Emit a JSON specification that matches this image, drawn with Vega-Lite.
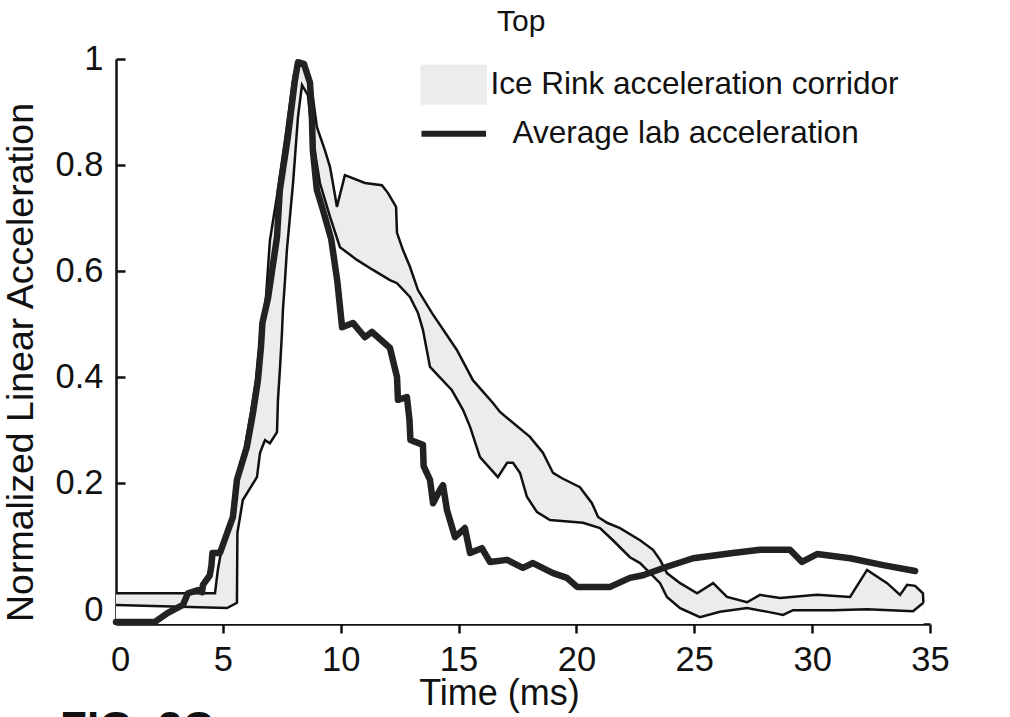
{
  "$schema": "https://vega.github.io/schema/vega-lite/v6.json",
  "autosize": {"type": "none"},
  "width": 814,
  "height": 565,
  "padding": {"left": 116, "top": 59, "right": 80, "bottom": 93},
  "background": "white",
  "title": {"text": "FIG. 2C", "orient": "bottom", "anchor": "start", "frame": "group", "dx": -56, "offset": -4, "fontSize": 44, "fontWeight": "bold", "color": "#111", "font": "Liberation Sans"},
  "datasets": {
    "lab": [
      {"t":0.47,"a":-0.062},{"t":2.12,"a":-0.062},{"t":2.67,"a":-0.045},{"t":3.31,"a":-0.030},{"t":3.52,"a":-0.008},{"t":3.95,"a":-0.002},{"t":4.12,"a":-0.006},{"t":4.16,"a":0.008},{"t":4.45,"a":0.026},{"t":4.52,"a":0.045},{"t":4.56,"a":0.068},{"t":4.88,"a":0.068},{"t":5.43,"a":0.136},{"t":5.60,"a":0.206},{"t":6.02,"a":0.268},{"t":6.28,"a":0.332},{"t":6.49,"a":0.394},{"t":6.62,"a":0.457},{"t":6.68,"a":0.502},{"t":6.92,"a":0.549},{"t":7.30,"a":0.664},{"t":7.42,"a":0.753},{"t":7.76,"a":0.853},{"t":8.06,"a":0.960},{"t":8.19,"a":0.994},{"t":8.44,"a":0.991},{"t":8.70,"a":0.955},{"t":8.78,"a":0.891},{"t":8.82,"a":0.828},{"t":8.99,"a":0.753},{"t":9.25,"a":0.715},{"t":9.60,"a":0.660},{"t":9.86,"a":0.580},{"t":10.06,"a":0.494},{"t":10.52,"a":0.502},{"t":11.03,"a":0.475},{"t":11.33,"a":0.485},{"t":12.09,"a":0.455},{"t":12.39,"a":0.400},{"t":12.43,"a":0.357},{"t":12.81,"a":0.362},{"t":12.92,"a":0.319},{"t":12.96,"a":0.281},{"t":13.49,"a":0.272},{"t":13.52,"a":0.232},{"t":13.79,"a":0.206},{"t":13.92,"a":0.162},{"t":14.21,"a":0.187},{"t":14.34,"a":0.196},{"t":14.51,"a":0.149},{"t":14.85,"a":0.098},{"t":15.27,"a":0.115},{"t":15.49,"a":0.068},{"t":15.99,"a":0.077},{"t":16.33,"a":0.051},{"t":17.06,"a":0.055},{"t":17.73,"a":0.040},{"t":18.16,"a":0.049},{"t":19.01,"a":0.030},{"t":19.60,"a":0.021},{"t":20.03,"a":0.004},{"t":21.43,"a":0.004},{"t":22.27,"a":0.021},{"t":22.83,"a":0.026},{"t":23.84,"a":0.042},{"t":24.95,"a":0.058},{"t":26.64,"a":0.068},{"t":27.79,"a":0.074},{"t":29.06,"a":0.074},{"t":29.57,"a":0.051},{"t":30.21,"a":0.066},{"t":31.61,"a":0.058},{"t":33.01,"a":0.045},{"t":34.37,"a":0.034}
    ],
    "corridor": [
      {"bound":"upper","t":0.47,"a":-0.008},{"bound":"upper","t":4.67,"a":-0.008},{"bound":"upper","t":4.79,"a":0.036},{"bound":"upper","t":4.92,"a":0.068},{"bound":"upper","t":5.35,"a":0.130},{"bound":"upper","t":5.56,"a":0.206},{"bound":"upper","t":5.94,"a":0.268},{"bound":"upper","t":6.19,"a":0.332},{"bound":"upper","t":6.41,"a":0.394},{"bound":"upper","t":6.58,"a":0.470},{"bound":"upper","t":6.83,"a":0.549},{"bound":"upper","t":7.00,"a":0.658},{"bound":"upper","t":7.34,"a":0.753},{"bound":"upper","t":7.64,"a":0.847},{"bound":"upper","t":7.98,"a":0.960},{"bound":"upper","t":8.15,"a":0.996},{"bound":"upper","t":8.49,"a":0.991},{"bound":"upper","t":8.78,"a":0.942},{"bound":"upper","t":8.99,"a":0.872},{"bound":"upper","t":9.33,"a":0.828},{"bound":"upper","t":9.55,"a":0.796},{"bound":"upper","t":9.76,"a":0.743},{"bound":"upper","t":9.84,"a":0.721},{"bound":"upper","t":10.18,"a":0.781},{"bound":"upper","t":11.03,"a":0.766},{"bound":"upper","t":11.75,"a":0.762},{"bound":"upper","t":12.01,"a":0.747},{"bound":"upper","t":12.35,"a":0.721},{"bound":"upper","t":12.39,"a":0.672},{"bound":"upper","t":12.64,"a":0.640},{"bound":"upper","t":12.94,"a":0.608},{"bound":"upper","t":13.28,"a":0.564},{"bound":"upper","t":13.87,"a":0.521},{"bound":"upper","t":14.93,"a":0.451},{"bound":"upper","t":15.61,"a":0.394},{"bound":"upper","t":16.46,"a":0.351},{"bound":"upper","t":16.76,"a":0.334},{"bound":"upper","t":18.03,"a":0.287},{"bound":"upper","t":18.58,"a":0.257},{"bound":"upper","t":19.01,"a":0.219},{"bound":"upper","t":19.39,"a":0.209},{"bound":"upper","t":20.15,"a":0.192},{"bound":"upper","t":20.66,"a":0.162},{"bound":"upper","t":20.92,"a":0.136},{"bound":"upper","t":21.30,"a":0.125},{"bound":"upper","t":21.85,"a":0.115},{"bound":"upper","t":22.70,"a":0.092},{"bound":"upper","t":23.25,"a":0.074},{"bound":"upper","t":23.55,"a":0.055},{"bound":"upper","t":23.84,"a":0.030},{"bound":"upper","t":24.40,"a":0.011},{"bound":"upper","t":25.12,"a":-0.008},{"bound":"upper","t":25.80,"a":0.011},{"bound":"upper","t":26.39,"a":-0.015},{"bound":"upper","t":27.24,"a":-0.025},{"bound":"upper","t":27.79,"a":-0.011},{"bound":"upper","t":28.64,"a":-0.017},{"bound":"upper","t":30.21,"a":-0.011},{"bound":"upper","t":31.61,"a":-0.015},{"bound":"upper","t":32.33,"a":0.036},{"bound":"upper","t":33.18,"a":0.011},{"bound":"upper","t":33.73,"a":-0.011},{"bound":"upper","t":34.03,"a":0.008},{"bound":"upper","t":34.37,"a":0.006},{"bound":"upper","t":34.70,"a":-0.008},{"bound":"upper","t":34.72,"a":-0.026},
      {"bound":"lower","t":0.47,"a":-0.030},{"bound":"lower","t":5.18,"a":-0.036},{"bound":"lower","t":5.60,"a":-0.026},{"bound":"lower","t":5.62,"a":0.106},{"bound":"lower","t":5.85,"a":0.168},{"bound":"lower","t":6.45,"a":0.211},{"bound":"lower","t":6.58,"a":0.257},{"bound":"lower","t":6.79,"a":0.281},{"bound":"lower","t":7.00,"a":0.275},{"bound":"lower","t":7.30,"a":0.296},{"bound":"lower","t":7.34,"a":0.357},{"bound":"lower","t":7.43,"a":0.419},{"bound":"lower","t":7.51,"a":0.483},{"bound":"lower","t":7.55,"a":0.526},{"bound":"lower","t":7.64,"a":0.583},{"bound":"lower","t":7.72,"a":0.640},{"bound":"lower","t":7.98,"a":0.766},{"bound":"lower","t":8.19,"a":0.891},{"bound":"lower","t":8.36,"a":0.951},{"bound":"lower","t":8.61,"a":0.932},{"bound":"lower","t":8.78,"a":0.860},{"bound":"lower","t":9.12,"a":0.766},{"bound":"lower","t":9.55,"a":0.702},{"bound":"lower","t":9.97,"a":0.645},{"bound":"lower","t":10.69,"a":0.621},{"bound":"lower","t":11.37,"a":0.602},{"bound":"lower","t":12.09,"a":0.583},{"bound":"lower","t":12.39,"a":0.577},{"bound":"lower","t":12.94,"a":0.551},{"bound":"lower","t":13.28,"a":0.521},{"bound":"lower","t":13.49,"a":0.489},{"bound":"lower","t":13.79,"a":0.419},{"bound":"lower","t":14.72,"a":0.375},{"bound":"lower","t":15.19,"a":0.338},{"bound":"lower","t":15.49,"a":0.306},{"bound":"lower","t":15.91,"a":0.249},{"bound":"lower","t":16.67,"a":0.211},{"bound":"lower","t":17.06,"a":0.238},{"bound":"lower","t":17.31,"a":0.238},{"bound":"lower","t":17.61,"a":0.219},{"bound":"lower","t":17.90,"a":0.174},{"bound":"lower","t":18.33,"a":0.145},{"bound":"lower","t":18.88,"a":0.130},{"bound":"lower","t":20.28,"a":0.125},{"bound":"lower","t":21.00,"a":0.115},{"bound":"lower","t":21.55,"a":0.092},{"bound":"lower","t":22.27,"a":0.060},{"bound":"lower","t":22.70,"a":0.049},{"bound":"lower","t":23.55,"a":0.011},{"bound":"lower","t":23.84,"a":-0.015},{"bound":"lower","t":24.40,"a":-0.036},{"bound":"lower","t":25.24,"a":-0.053},{"bound":"lower","t":26.09,"a":-0.043},{"bound":"lower","t":27.24,"a":-0.036},{"bound":"lower","t":28.34,"a":-0.045},{"bound":"lower","t":28.77,"a":-0.049},{"bound":"lower","t":29.19,"a":-0.040},{"bound":"lower","t":30.89,"a":-0.040},{"bound":"lower","t":32.33,"a":-0.038},{"bound":"lower","t":34.28,"a":-0.042},{"bound":"lower","t":34.72,"a":-0.026}
    ]
  },
  "encoding": {
    "x": {
      "field": "t", "type": "quantitative",
      "scale": {"domain": [0.47, 35], "nice": false, "zero": false},
      "axis": {
        "title": "Time (ms)",
        "titleX": 383,
        "titleFontSize": 36,
        "values": [0.47, 5, 10, 15, 20, 25, 30, 35],
        "labelExpr": "datum.value < 1 ? '0' : datum.label",
        "labelFlush": false,
        "tickSize": 9, "labelPadding": 10, "titlePadding": 0,
        "tickOpacity": {"condition": {"test": "datum.value < 1", "value": 0}, "value": 1},
        "labelOffset": {"condition": {"test": "datum.value < 1", "value": 4}, "value": 0}
      }
    },
    "y": {
      "field": "a", "type": "quantitative",
      "scale": {"domain": [-0.066, 1], "nice": false, "zero": false},
      "axis": {
        "title": "Normalized Linear Acceleration",
        "titleFontSize": 37.5,
        "titleY": 303,
        "values": [0, 0.2, 0.4, 0.6, 0.8, 1],
        "format": "~g",
        "labelFlush": false,
        "tickSize": -9, "labelPadding": 22, "titlePadding": 15,
        "tickOpacity": {"condition": {"test": "datum.value === 0", "value": 0}, "value": 1},
        "labelOffset": {"condition": {"test": "datum.value === 0", "value": 21}, "value": 0}
      }
    }
  },
  "layer": [
    {
      "data": {"name": "corridor"},
      "transform": [{"filter": "datum.bound === 'upper'"}],
      "mark": {"type": "area", "opacity": 1, "fillOpacity": 1},
      "encoding": {
        "y2": {"datum": -0.066},
        "color": {
          "datum": "Ice Rink acceleration corridor",
          "type": "nominal",
          "scale": {"domain": ["Ice Rink acceleration corridor", "Average lab acceleration"], "range": ["#ececec", "#222222"]},
          "legend": {
            "orient": "none", "legendX": 322, "legendY": -48, "padding": 0,
            "title": "Top", "titleFontSize": 30, "titleFontWeight": "normal", "titleColor": "#111", "titlePadding": 28,
            "labelFontSize": 31.5, "labelColor": "#111", "labelOffset": 21, "labelLimit": 700,
            "symbolSize": 1444, "rowPadding": 9,
            "encode": {
              "symbols": {"update": {
                "shape": {"signal": "datum.value === 'Average lab acceleration' ? 'M-1.7,0H1.7' : 'M-1.7,-1H1.7V1H-1.7Z'"},
                "fill": {"signal": "datum.value === 'Average lab acceleration' ? 'transparent' : '#ececec'"},
                "stroke": {"value": "#111"},
                "strokeWidth": {"signal": "datum.value === 'Average lab acceleration' ? 6 : 2"},
                "opacity": {"value": 1},
                "fillOpacity": {"value": 1}
              }},
              "labels": {"update": {"dx": {"signal": "datum.value === 'Average lab acceleration' ? 22 : 0"}}},
              "title": {"update": {"dx": {"value": 59}, "dy": {"value": -4}}}
            }
          }
        }
      }
    },
    {
      "data": {"name": "corridor"},
      "transform": [{"filter": "datum.bound === 'lower'"}],
      "mark": {"type": "area", "fill": "white", "opacity": 1},
      "encoding": {"y2": {"datum": -0.066}}
    },
    {
      "data": {"name": "corridor"},
      "mark": {"type": "line", "stroke": "#111", "strokeWidth": 2.5},
      "encoding": {"detail": {"field": "bound", "type": "nominal"}}
    },
    {
      "data": {"name": "lab"},
      "mark": {"type": "line", "strokeWidth": 6.5, "strokeJoin": "round", "strokeCap": "round"},
      "encoding": {
        "color": {
          "datum": "Average lab acceleration",
          "type": "nominal",
          "scale": {"domain": ["Ice Rink acceleration corridor", "Average lab acceleration"], "range": ["#ececec", "#222222"]},
          "legend": {
            "orient": "none", "legendX": 322, "legendY": -48, "padding": 0,
            "title": "Top", "titleFontSize": 30, "titleFontWeight": "normal", "titleColor": "#111", "titlePadding": 28,
            "labelFontSize": 31.5, "labelColor": "#111", "labelOffset": 21, "labelLimit": 700,
            "symbolSize": 1444, "rowPadding": 9,
            "encode": {
              "symbols": {"update": {
                "shape": {"signal": "datum.value === 'Average lab acceleration' ? 'M-1.7,0H1.7' : 'M-1.7,-1H1.7V1H-1.7Z'"},
                "fill": {"signal": "datum.value === 'Average lab acceleration' ? 'transparent' : '#ececec'"},
                "stroke": {"value": "#111"},
                "strokeWidth": {"signal": "datum.value === 'Average lab acceleration' ? 6 : 2"},
                "opacity": {"value": 1},
                "fillOpacity": {"value": 1}
              }},
              "labels": {"update": {"dx": {"signal": "datum.value === 'Average lab acceleration' ? 22 : 0"}}},
              "title": {"update": {"dx": {"value": 59}, "dy": {"value": -4}}}
            }
          }
        }
      }
    }
  ],
  "config": {
    "font": "Liberation Sans",
    "view": {"stroke": null},
    "axis": {
      "grid": false, "zindex": 1,
      "domainColor": "#111", "domainWidth": 2.5,
      "tickColor": "#111", "tickWidth": 2.5,
      "labelColor": "#111", "labelFontSize": 34.5, "labelFont": "Liberation Sans",
      "titleColor": "#111", "titleFontWeight": "normal", "titleFont": "Liberation Sans"
    },
    "legend": {"labelFont": "Liberation Sans", "titleFont": "Liberation Sans"}
  }
}
